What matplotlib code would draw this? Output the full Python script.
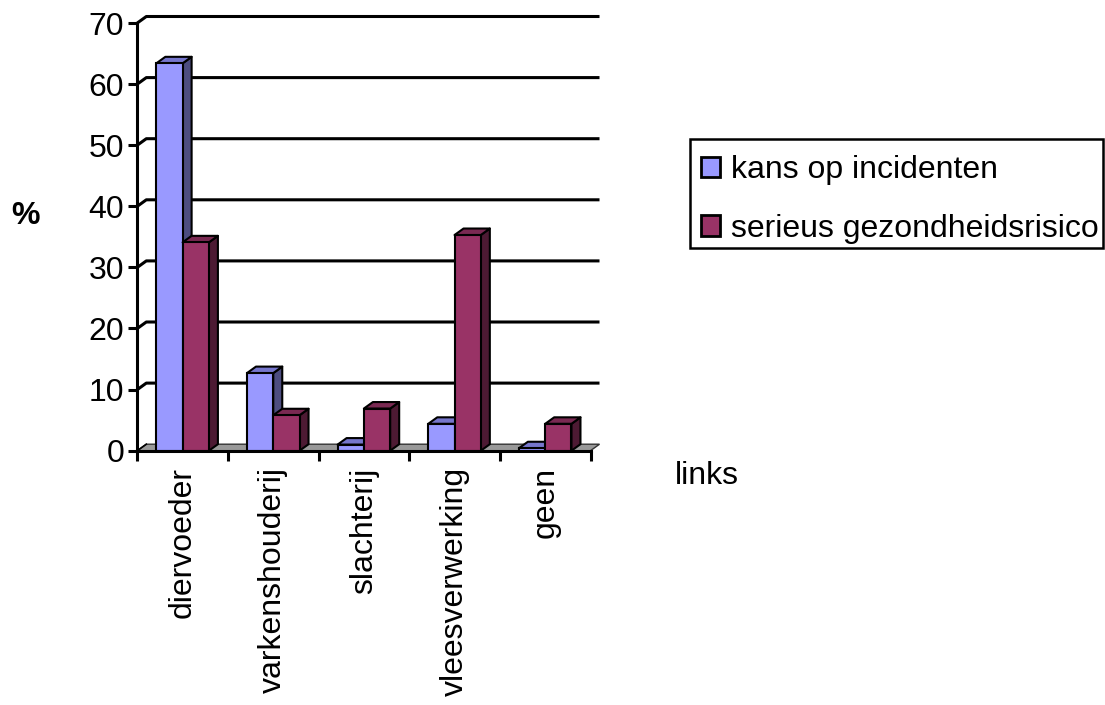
import matplotlib
matplotlib.use("Agg")
import matplotlib.pyplot as plt
from matplotlib.patches import Polygon, Patch, Rectangle

plt.rcParams['font.family'] = ['Liberation Sans', 'DejaVu Sans']

# Data
categories = ["diervoeder", "varkenshouderij", "slachterij", "vleesverwerking", "geen"]
series_names = ["kans op incidenten", "serieus gezondheidsrisico"]
kans_op_incidenten = [63.4, 12.7, 1.0, 4.4, 0.4]
serieus_gezondheidsrisico = [34.1, 5.8, 6.9, 35.3, 4.4]
y_ticks = [0, 10, 20, 30, 40, 50, 60, 70]
y_label = "%"
x_label = "links"

# Colours: front face, side face, top face
palette = [
    ("#9999FF", "#4D4D80", "#7676CC"),
    ("#993366", "#4D1A33", "#7A2952"),
]

W, H, DPI = 1105, 705, 100
fig = plt.figure(figsize=(W / DPI, H / DPI), dpi=DPI)

# plot area in pixels (front plane)
px_left, px_right = 137.3, 590.5
px_top, px_bottom = 23.0, 450.7
ax = fig.add_axes([px_left / W, 1 - px_bottom / H,
                   (px_right - px_left) / W, (px_bottom - px_top) / H])
n = len(categories)
ax.set_xlim(0, n)
ax.set_ylim(0, 70)

# depth offset of the 3D effect, converted to data units
depth_px = (9.0, 6.5)
DX = depth_px[0] * n / (px_right - px_left)
DY = depth_px[1] * 70 / (px_bottom - px_top)

FS = 23
edge_lw = 1.5
grid_lw = 2.2

# floor
floor = Polygon([(0, 0), (n, 0), (n + DX, DY), (DX, DY)], closed=True,
                facecolor="#999999", edgecolor="#333333", lw=1.0, zorder=1,
                clip_on=False)
ax.add_patch(floor)

# back-wall gridlines with the diagonal joins to the front axis
for v in y_ticks[1:]:
    ax.plot([0, DX, n + DX], [v, v + DY, v + DY], color="black", lw=grid_lw,
            solid_capstyle="butt", zorder=1, clip_on=False)
ax.plot([0, DX], [0, DY], color="black", lw=1.2, zorder=1, clip_on=False)

# bars
bar_w = 0.29
starts = [0.21, 0.50]
for s_idx, values in enumerate([kans_op_incidenten, serieus_gezondheidsrisico]):
    front, side, top = palette[s_idx]
    for i, v in enumerate(values):
        x0 = i + starts[s_idx]
        x1 = x0 + bar_w
        z = 3 + 2 * i + s_idx * 1
        ax.bar(x0, v, width=bar_w, align="edge", color=front,
               edgecolor="black", lw=edge_lw, zorder=z + 0.2)
        ax.add_patch(Polygon([(x1, 0), (x1 + DX, DY), (x1 + DX, v + DY), (x1, v)],
                             closed=True, facecolor=side, edgecolor="black",
                             lw=edge_lw, zorder=z, joinstyle="round"))
        ax.add_patch(Polygon([(x0, v), (x1, v), (x1 + DX, v + DY), (x0 + DX, v + DY)],
                             closed=True, facecolor=top, edgecolor="black",
                             lw=edge_lw, zorder=z + 0.1, joinstyle="round"))

# axes lines and ticks
for side_name in ["top", "right"]:
    ax.spines[side_name].set_visible(False)
for side_name in ["left", "bottom"]:
    ax.spines[side_name].set_linewidth(grid_lw)
    ax.spines[side_name].set_zorder(20)
ax.patch.set_visible(False)

ax.set_yticks(y_ticks)
ax.set_yticklabels([str(t) for t in y_ticks], fontsize=FS)
ax.tick_params(axis="y", direction="out", length=6.5, width=grid_lw, pad=3)

ax.set_xticks(range(n + 1))
ax.set_xticklabels([])
ax.tick_params(axis="x", which="major", direction="out", length=7, width=grid_lw)
ax.set_xticks([i + 0.5 for i in range(n)], minor=True)
ax.set_xticklabels(categories, minor=True, rotation=90, fontsize=FS,
                   va="top", ha="center")
ax.tick_params(axis="x", which="minor", length=0, pad=12)

# axis titles
fig.text(26 / W, 1 - 216 / H, y_label, fontsize=FS, fontweight="bold",
         ha="center", va="center")
fig.text(675 / W, 1 - 476 / H, x_label, fontsize=FS, ha="left", va="center")

# legend box and entries
fig.add_artist(Rectangle((690 / W, 1 - 248 / H), 413 / W, 109 / H,
                         transform=fig.transFigure, facecolor="white",
                         edgecolor="black", lw=1.8, zorder=30))
handles = [Patch(facecolor=palette[k][0], edgecolor="black", lw=2.0)
           for k in range(len(series_names))]
leg = fig.legend(handles, series_names, loc="upper left",
                 bbox_to_anchor=(701 / W, 1 - 155 / H), fontsize=FS,
                 frameon=False, borderaxespad=0, borderpad=0,
                 handlelength=0.6, handleheight=0.6, handletextpad=0.35,
                 labelspacing=0.9)
leg.set_zorder(31)

fig.savefig("out.png", dpi=DPI)
